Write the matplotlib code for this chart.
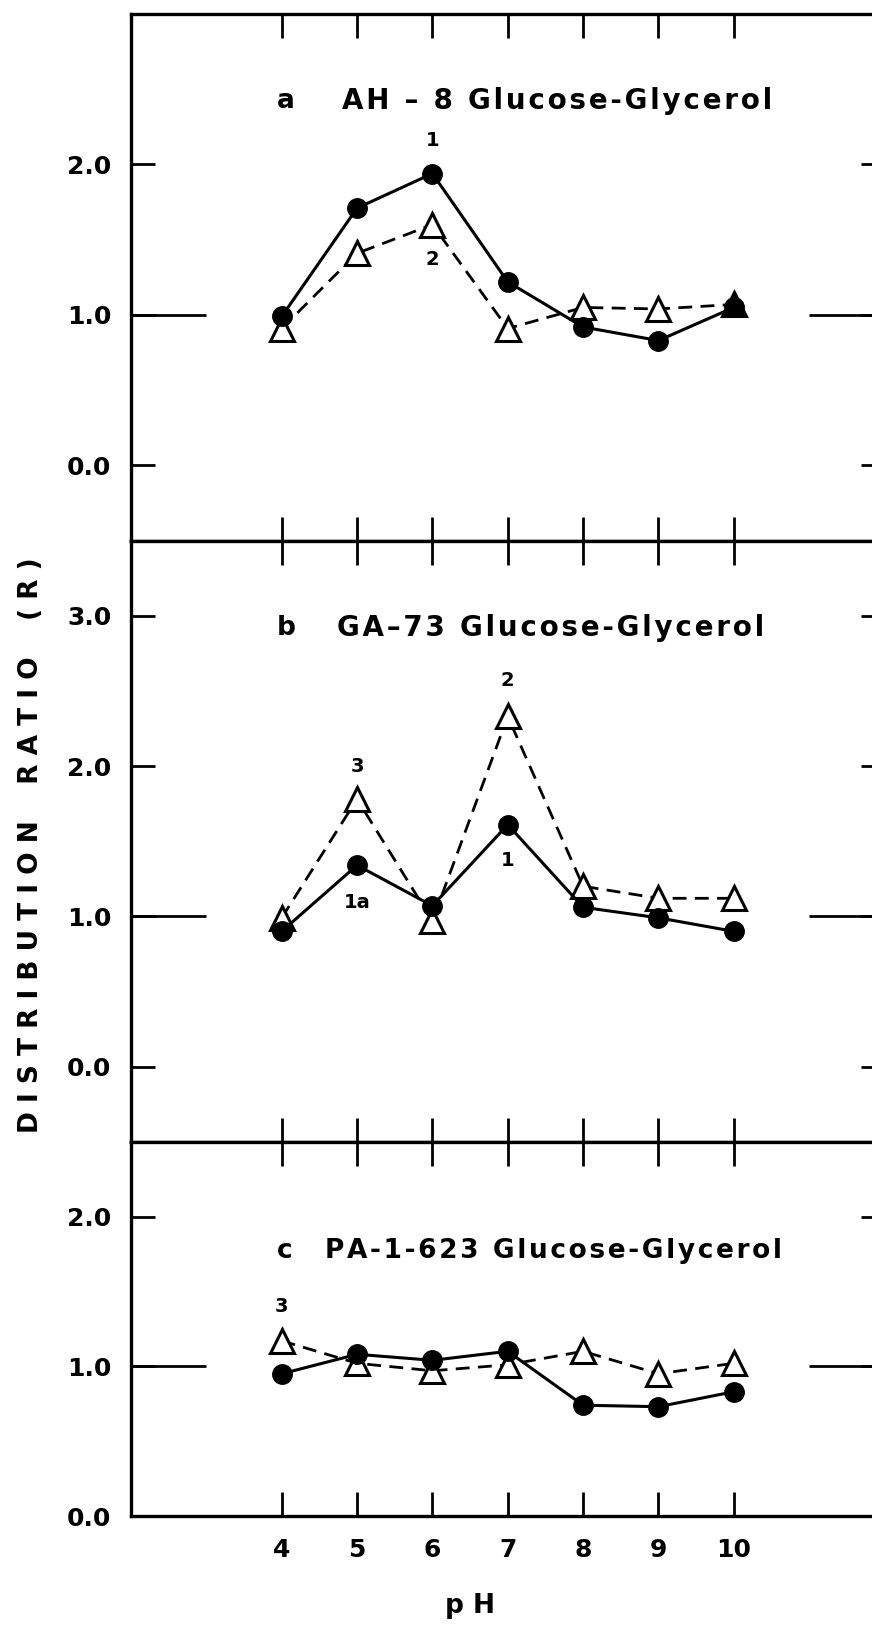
import numpy as np
import matplotlib.pyplot as plt

# pH values and distribution ratios
ph = [4, 5, 6, 7, 8, 9, 10]

circ_a = [0.99, 1.71, 1.94, 1.22, 0.92, 0.83, 1.05]
tri_a = [0.91, 1.41, 1.60, 0.91, 1.05, 1.04, 1.07]

circ_b = [0.90, 1.34, 1.07, 1.61, 1.06, 0.99, 0.90]
tri_b = [0.99, 1.78, 0.97, 2.33, 1.20, 1.12, 1.12]

circ_c = [0.95, 1.08, 1.04, 1.10, 0.74, 0.73, 0.83]
tri_c = [1.17, 1.02, 0.97, 1.01, 1.10, 0.95, 1.02]

panel_letters = ["a", "b", "c"]
titles = ["AH \u2013 8 Glucose-Glycerol",
          "GA\u201373 Glucose-Glycerol",
          "PA-1-623 Glucose-Glycerol"]

# peak labels (x, y, text) per panel
notes_a = [(6, 2.16, "1"), (6, 1.37, "2")]
notes_b = [(5, 2.00, "3"), (5, 1.09, "1a"), (7, 2.57, "2"), (7, 1.37, "1")]
notes_c = [(4, 1.40, "3")]


def spaced(s):
    # loose letter spacing like the original lettering
    return "\u200a".join(s)


W, H = 872, 1629
fig = plt.figure(figsize=(W / 100, H / 100), dpi=100)

left = 131 / W
width = 753.5 / W
# panel edges in pixels from top
edges = [14, 540.7, 1141.7, 1516]
ylims = [(-0.5, 3.0), (-0.5, 3.5), (0.0, 2.5)]
yticks = [[0, 1, 2], [0, 1, 2, 3], [0, 1, 2]]
title_y = [2.42, 2.92, 1.77]
title_x = [4.80, 4.74, 4.58]
title_size = [20, 20, 19]

panels = [(circ_a, tri_a, notes_a), (circ_b, tri_b, notes_b), (circ_c, tri_c, notes_c)]

for i, (circ, tri, notes) in enumerate(panels):
    top, bot = edges[i], edges[i + 1]
    ax = fig.add_axes([left, 1 - bot / H, width, (bot - top) / H])
    ax.set_xlim(2, 12)
    ax.set_ylim(*ylims[i])
    for s in ax.spines.values():
        s.set_linewidth(2.4)

    ax.set_xticks(ph)
    ax.set_yticks(yticks[i])
    ax.tick_params(direction="in", length=17, width=2, top=True, right=True,
                   labelsize=18, pad=14)
    ax.set_yticklabels(["%.1f" % v for v in yticks[i]], fontweight="bold")
    if i == 2:
        ax.set_xticklabels([str(v) for v in ph], fontweight="bold")
        ax.tick_params(axis="x", pad=16)
    else:
        ax.set_xticklabels([])

    # reference line at R = 1.0 near both spines
    ax.plot([2, 3], [1, 1], color="black", lw=2, solid_capstyle="butt")
    ax.plot([11, 12], [1, 1], color="black", lw=2, solid_capstyle="butt")

    ax.plot(ph, tri, color="black", lw=2, dashes=(5, 3), marker="^",
            markersize=17, markerfacecolor="white", markeredgecolor="black",
            markeredgewidth=2.2, zorder=3)
    if i == 0:
        ax.plot(ph[-1:], tri[-1:], linestyle="none", marker="^", markersize=17,
                color="black", zorder=5)
    ax.plot(ph, circ, color="black", lw=2.2, marker="o", markersize=14,
            markerfacecolor="black", markeredgecolor="black", zorder=4)

    for x, y, t in notes:
        ax.text(x, y, t, ha="center", va="center", fontsize=14, fontweight="bold")

    ax.text(3.94, title_y[i], panel_letters[i], ha="left", va="center",
            fontsize=19, fontweight="bold")
    ax.text(title_x[i], title_y[i], spaced(titles[i]), ha="left", va="center",
            fontsize=title_size[i], fontweight="bold")

fig.text(31 / W, 1 - 845 / H, "D I S T R I B U T I O N    R A T I O    ( R )",
         rotation=90, ha="center", va="center", fontsize=19, fontweight="bold")
fig.text(470 / W, 1 - 1606 / H, "p H", ha="center", va="center", fontsize=19,
         fontweight="bold")

fig.savefig("out.png", dpi=100)
